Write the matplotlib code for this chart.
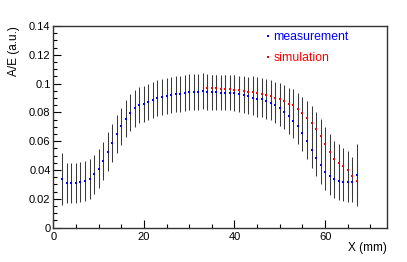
import matplotlib.pyplot as plt
import numpy as np

plt.rcParams['font.family'] = ['Liberation Sans', 'DejaVu Sans']

# measurement: X = 2 ... 67 mm
meas_x = list(range(2, 68))
meas_y = [0.0338, 0.0310, 0.0310, 0.0310, 0.0317, 0.0326, 0.0340, 0.0370, 0.0410, 0.0463,
          0.0528, 0.0588, 0.0650, 0.0704, 0.0757, 0.0798, 0.0829, 0.0850, 0.0858, 0.0870,
          0.0888, 0.0900, 0.0909, 0.0914, 0.0923, 0.0928, 0.0930, 0.0937, 0.0942, 0.0942,
          0.0942, 0.0947, 0.0942, 0.0940, 0.0940, 0.0938, 0.0937, 0.0937, 0.0935, 0.0926,
          0.0919, 0.0914, 0.0902, 0.0893, 0.0891, 0.0877, 0.0868, 0.0851, 0.0829, 0.0805,
          0.0775, 0.0743, 0.0704, 0.0657, 0.0604, 0.0539, 0.0484, 0.0435, 0.0389, 0.0359,
          0.0340, 0.0326, 0.0317, 0.0315, 0.0315, 0.0368]
meas_err = [0.018, 0.014, 0.014, 0.014, 0.014, 0.014, 0.014, 0.0135, 0.0135, 0.0135,
            0.0135, 0.013, 0.013, 0.013, 0.013, 0.013, 0.013, 0.0125, 0.0125, 0.0125,
            0.0125, 0.0125, 0.0125, 0.0125, 0.0125, 0.0125, 0.0125, 0.0125, 0.0125, 0.0125,
            0.0125, 0.0125, 0.0122, 0.0122, 0.0122, 0.0122, 0.0122, 0.0122, 0.0122, 0.0122,
            0.0122, 0.0122, 0.0122, 0.0122, 0.0122, 0.0122, 0.0122, 0.0122, 0.0122, 0.0122,
            0.0122, 0.0122, 0.0123, 0.0123, 0.0125, 0.0125, 0.0128, 0.013, 0.013, 0.0132,
            0.0133, 0.0134, 0.0135, 0.0135, 0.0135, 0.0214]

# simulation: X = 34 ... 67 mm
sim_x = list(range(34, 68))
sim_y = [0.0972, 0.0970, 0.0967, 0.0965, 0.0965, 0.0960, 0.0958, 0.0953, 0.0949, 0.0944,
         0.0940, 0.0937, 0.0930, 0.0921, 0.0914, 0.0902, 0.0891, 0.0881, 0.0860, 0.0850,
         0.0824, 0.0796, 0.0762, 0.0729, 0.0683, 0.0634, 0.0581, 0.0525, 0.0477, 0.0451,
         0.0426, 0.0398, 0.0361, 0.0326]
sim_err = [0.0085, 0.009, 0.009, 0.009, 0.0095, 0.0095, 0.01, 0.01, 0.0105, 0.0105,
           0.011, 0.011, 0.011, 0.011, 0.011, 0.011, 0.0112, 0.0112, 0.0113, 0.0113,
           0.0113, 0.0113, 0.0115, 0.0115, 0.012, 0.012, 0.012, 0.0125, 0.0125, 0.013,
           0.013, 0.0135, 0.0132, 0.012]

fig = plt.figure(figsize=(4.07, 2.62), dpi=100)
ax = fig.add_axes([53.3 / 407, 1 - 227.7 / 262, (386.7 - 53.3) / 407, (227.7 - 26) / 262])

ax.errorbar(meas_x, meas_y, yerr=meas_err, fmt='none', ecolor='#3a3a3a', elinewidth=0.75)
ax.errorbar(sim_x, sim_y, yerr=sim_err, fmt='none', ecolor='#3a3a3a', elinewidth=0.75)
ax.plot(meas_x, meas_y, 's', color='blue', ms=1.6, mew=0, label='measurement')
ax.plot(sim_x, sim_y, 's', color='red', ms=1.6, mew=0, label='simulation')

ax.set_xlim(0, 73.6)
ax.set_ylim(0, 0.14)
ax.set_xticks([0, 20, 40, 60])
ax.set_xticks(np.arange(0, 73, 5), minor=True)
ax.set_yticks(np.arange(0, 0.141, 0.02))
ax.set_yticklabels(['0', '0.02', '0.04', '0.06', '0.08', '0.1', '0.12', '0.14'])
ax.set_yticks(np.arange(0, 0.141, 0.005), minor=True)
ax.tick_params(which='both', direction='in', top=False, right=False, labelsize=8)
ax.tick_params(which='major', length=6, width=0.8)
ax.tick_params(which='minor', length=3, width=0.8)
ax.tick_params(axis='x', pad=3)
ax.tick_params(axis='y', pad=2)
for s in ax.spines.values():
    s.set_linewidth(1.0)
    s.set_color('#333333')

fig.text(14 / 407, 1 - 26 / 262, 'A/E (a.u.)', rotation=90, ha='center', va='top', fontsize=8.5)
fig.text(386.7 / 407, 1 - 248 / 262, 'X (mm)', ha='right', va='center', fontsize=8.5)

leg = ax.legend(loc='upper left', bbox_to_anchor=(265.3 / 407, 1 - 31 / 262),
                bbox_transform=fig.transFigure, frameon=False, fontsize=8.8,
                handlelength=0.4, handletextpad=0.26, borderpad=0, borderaxespad=0,
                labelspacing=0.75, labelcolor=['blue', 'red'], markerscale=1.0)

plt.savefig('out.png', dpi=100)
